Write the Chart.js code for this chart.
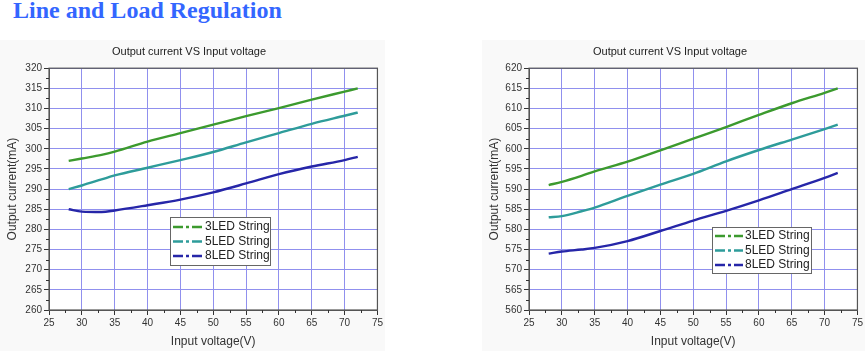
<!DOCTYPE html>
<html>
<head>
<meta charset="utf-8">
<script src="https://cdn.jsdelivr.net/npm/chart.js@4.4.1/dist/chart.umd.min.js"></script>
<style>
  body { margin: 0; width: 865px; height: 351px; background: #fff; position: relative; overflow: hidden; }
  #pageTitle { position: absolute; left: 13px; top: -3px; font: bold 24px "Liberation Serif", "Times New Roman", serif; color: #3366ff; white-space: nowrap; }
  .panel { position: absolute; top: 40px; height: 311px; background: #f9f9f9; }
</style>
</head>
<body>
<div id="pageTitle">Line and Load Regulation</div>
<div class="panel" style="left:0;width:385px"><canvas id="leftChart" width="385" height="311"></canvas></div>
<div class="panel" style="left:482px;width:383px"><canvas id="rightChart" width="383" height="311"></canvas></div>

<script>
// Data (input voltage in V, output current in mA)
const voltage = [28, 30, 33, 35, 40, 45, 50, 55, 60, 65, 70, 72];
const seriesNames = ["3LED String", "5LED String", "8LED String"];
const seriesColors = ["#3c9a2e", "#2e9c9a", "#2626a8"];

// left chart (~300 mA)
const left3LED = [297, 297.6, 298.5, 299.3, 301.8, 303.9, 306.0, 308.1, 310.1, 312.2, 314.2, 315];
const left5LED = [290, 290.9, 292.4, 293.4, 295.3, 297.2, 299.2, 301.6, 303.9, 306.2, 308.2, 309];
const left8LED = [285, 284.4, 284.3, 284.7, 286.0, 287.4, 289.2, 291.4, 293.7, 295.6, 297.2, 298];

// right chart (~600 mA)
const right3LED = [591, 591.8, 593.3, 594.4, 596.8, 599.6, 602.5, 605.4, 608.4, 611.3, 613.9, 615];
const right5LED = [583, 583.3, 584.5, 585.4, 588.3, 591.1, 593.8, 596.9, 599.7, 602.3, 604.9, 606];
const right8LED = [574, 574.5, 575.0, 575.4, 577.1, 579.6, 582.2, 584.6, 587.2, 590.0, 592.8, 594];

const xRange = [25, 75];
const leftRange = [260, 320];
const rightRange = [560, 620];

const FONT = '"Liberation Sans", Arial, sans-serif';

// white plot area, frame, minor ticks and the inset legend
const framePlugin = {
  id: 'frame',
  beforeDraw(chart) {
    const a = chart.chartArea, ctx = chart.ctx;
    ctx.save();
    ctx.fillStyle = '#ffffff';
    ctx.fillRect(a.left, a.top, a.right - a.left, a.bottom - a.top);
    ctx.restore();
  },
  afterDraw(chart, args, opts) {
    const a = chart.chartArea, ctx = chart.ctx;
    const xs = chart.scales.x, ys = chart.scales.y;
    ctx.save();
    ctx.strokeStyle = '#555';
    ctx.lineWidth = 1.2;
    ctx.strokeRect(a.left, a.top, a.right - a.left, a.bottom - a.top);

    // minor ticks
    ctx.strokeStyle = '#333';
    ctx.lineWidth = 1;
    ctx.beginPath();
    for (let v = xs.min + 2.5; v < xs.max; v += 5) {
      const px = Math.round(xs.getPixelForValue(v)) + 0.5;
      ctx.moveTo(px, a.bottom); ctx.lineTo(px, a.bottom + 3);
    }
    for (let v = ys.min + 2.5; v < ys.max; v += 5) {
      const py = Math.round(ys.getPixelForValue(v)) + 0.5;
      ctx.moveTo(a.left - 3, py); ctx.lineTo(a.left, py);
    }
    ctx.stroke();

    // legend box
    const b = opts.box;
    ctx.fillStyle = '#ffffff';
    ctx.fillRect(b.x, b.y, b.w, b.h);
    ctx.strokeStyle = '#666';
    ctx.lineWidth = 1;
    ctx.strokeRect(b.x + 0.5, b.y + 0.5, b.w, b.h);
    ctx.font = '12px ' + FONT;
    ctx.textBaseline = 'middle';
    chart.data.datasets.forEach((ds, i) => {
      const y = b.y + opts.rowTop + i * opts.rowGap;
      ctx.strokeStyle = ds.borderColor;
      ctx.lineWidth = 2.5;
      ctx.setLineDash([10, 3, 3, 3]);
      ctx.beginPath();
      ctx.moveTo(b.x + 3, y); ctx.lineTo(b.x + 3 + opts.sample, y);
      ctx.stroke();
      ctx.setLineDash([]);
      ctx.fillStyle = '#222';
      ctx.fillText(ds.label, b.x + 5 + opts.sample, y);
    });
    ctx.restore();
  }
};

function makeChart(id, seriesList, yRange, yWidth, legendOpts) {
  const datasets = seriesList.map((vals, i) => ({
    label: seriesNames[i],
    data: voltage.map((v, k) => ({ x: v, y: vals[k] })),
    borderColor: seriesColors[i],
    borderWidth: 2.4,
    pointRadius: 0,
    showLine: true,
    fill: false,
    cubicInterpolationMode: 'monotone'
  }));

  return new Chart(document.getElementById(id).getContext('2d'), {
    type: 'scatter',
    data: { datasets },
    plugins: [framePlugin],
    options: {
      responsive: false,
      animation: false,
      layout: { padding: { left: 0, right: 7, top: 0, bottom: 0 } },
      plugins: {
        legend: { display: false },
        tooltip: { enabled: false },
        title: {
          display: true,
          text: 'Output current VS Input voltage',
          color: '#222',
          font: { family: FONT, size: 11, weight: 'normal' },
          padding: { top: 5, bottom: 10 }
        },
        frame: legendOpts
      },
      scales: {
        x: {
          type: 'linear',
          min: xRange[0], max: xRange[1],
          afterFit(scale) { scale.height = 41; },
          ticks: { stepSize: 5, color: '#333', font: { family: FONT, size: 10 }, padding: 2, maxRotation: 0 },
          grid: { color: '#9090ee', lineWidth: 1, tickLength: 5, tickColor: '#333' },
          border: { color: '#555' },
          title: { display: true, text: 'Input voltage(V)', color: '#333', font: { family: FONT, size: 12 }, padding: { top: 0, bottom: 2 } }
        },
        y: {
          type: 'linear',
          min: yRange[0], max: yRange[1],
          afterFit(scale) { scale.width = yWidth; },
          ticks: { stepSize: 5, color: '#333', font: { family: FONT, size: 10 }, padding: 2 },
          grid: { color: '#9090ee', lineWidth: 1, tickLength: 5, tickColor: '#333' },
          border: { color: '#555' },
          title: { display: true, text: 'Output current(mA)', color: '#333', font: { family: FONT, size: 12 }, padding: { top: 5, bottom: 0 } }
        }
      }
    }
  });
}

makeChart('leftChart', [left3LED, left5LED, left8LED], leftRange, 49,
  { box: { x: 170, y: 177, w: 100, h: 48 }, rowTop: 10, rowGap: 14.5, sample: 30 });
makeChart('rightChart', [right3LED, right5LED, right8LED], rightRange, 47,
  { box: { x: 230, y: 187, w: 99, h: 46 }, rowTop: 9, rowGap: 14.5, sample: 28 });
</script>
</body>
</html>
